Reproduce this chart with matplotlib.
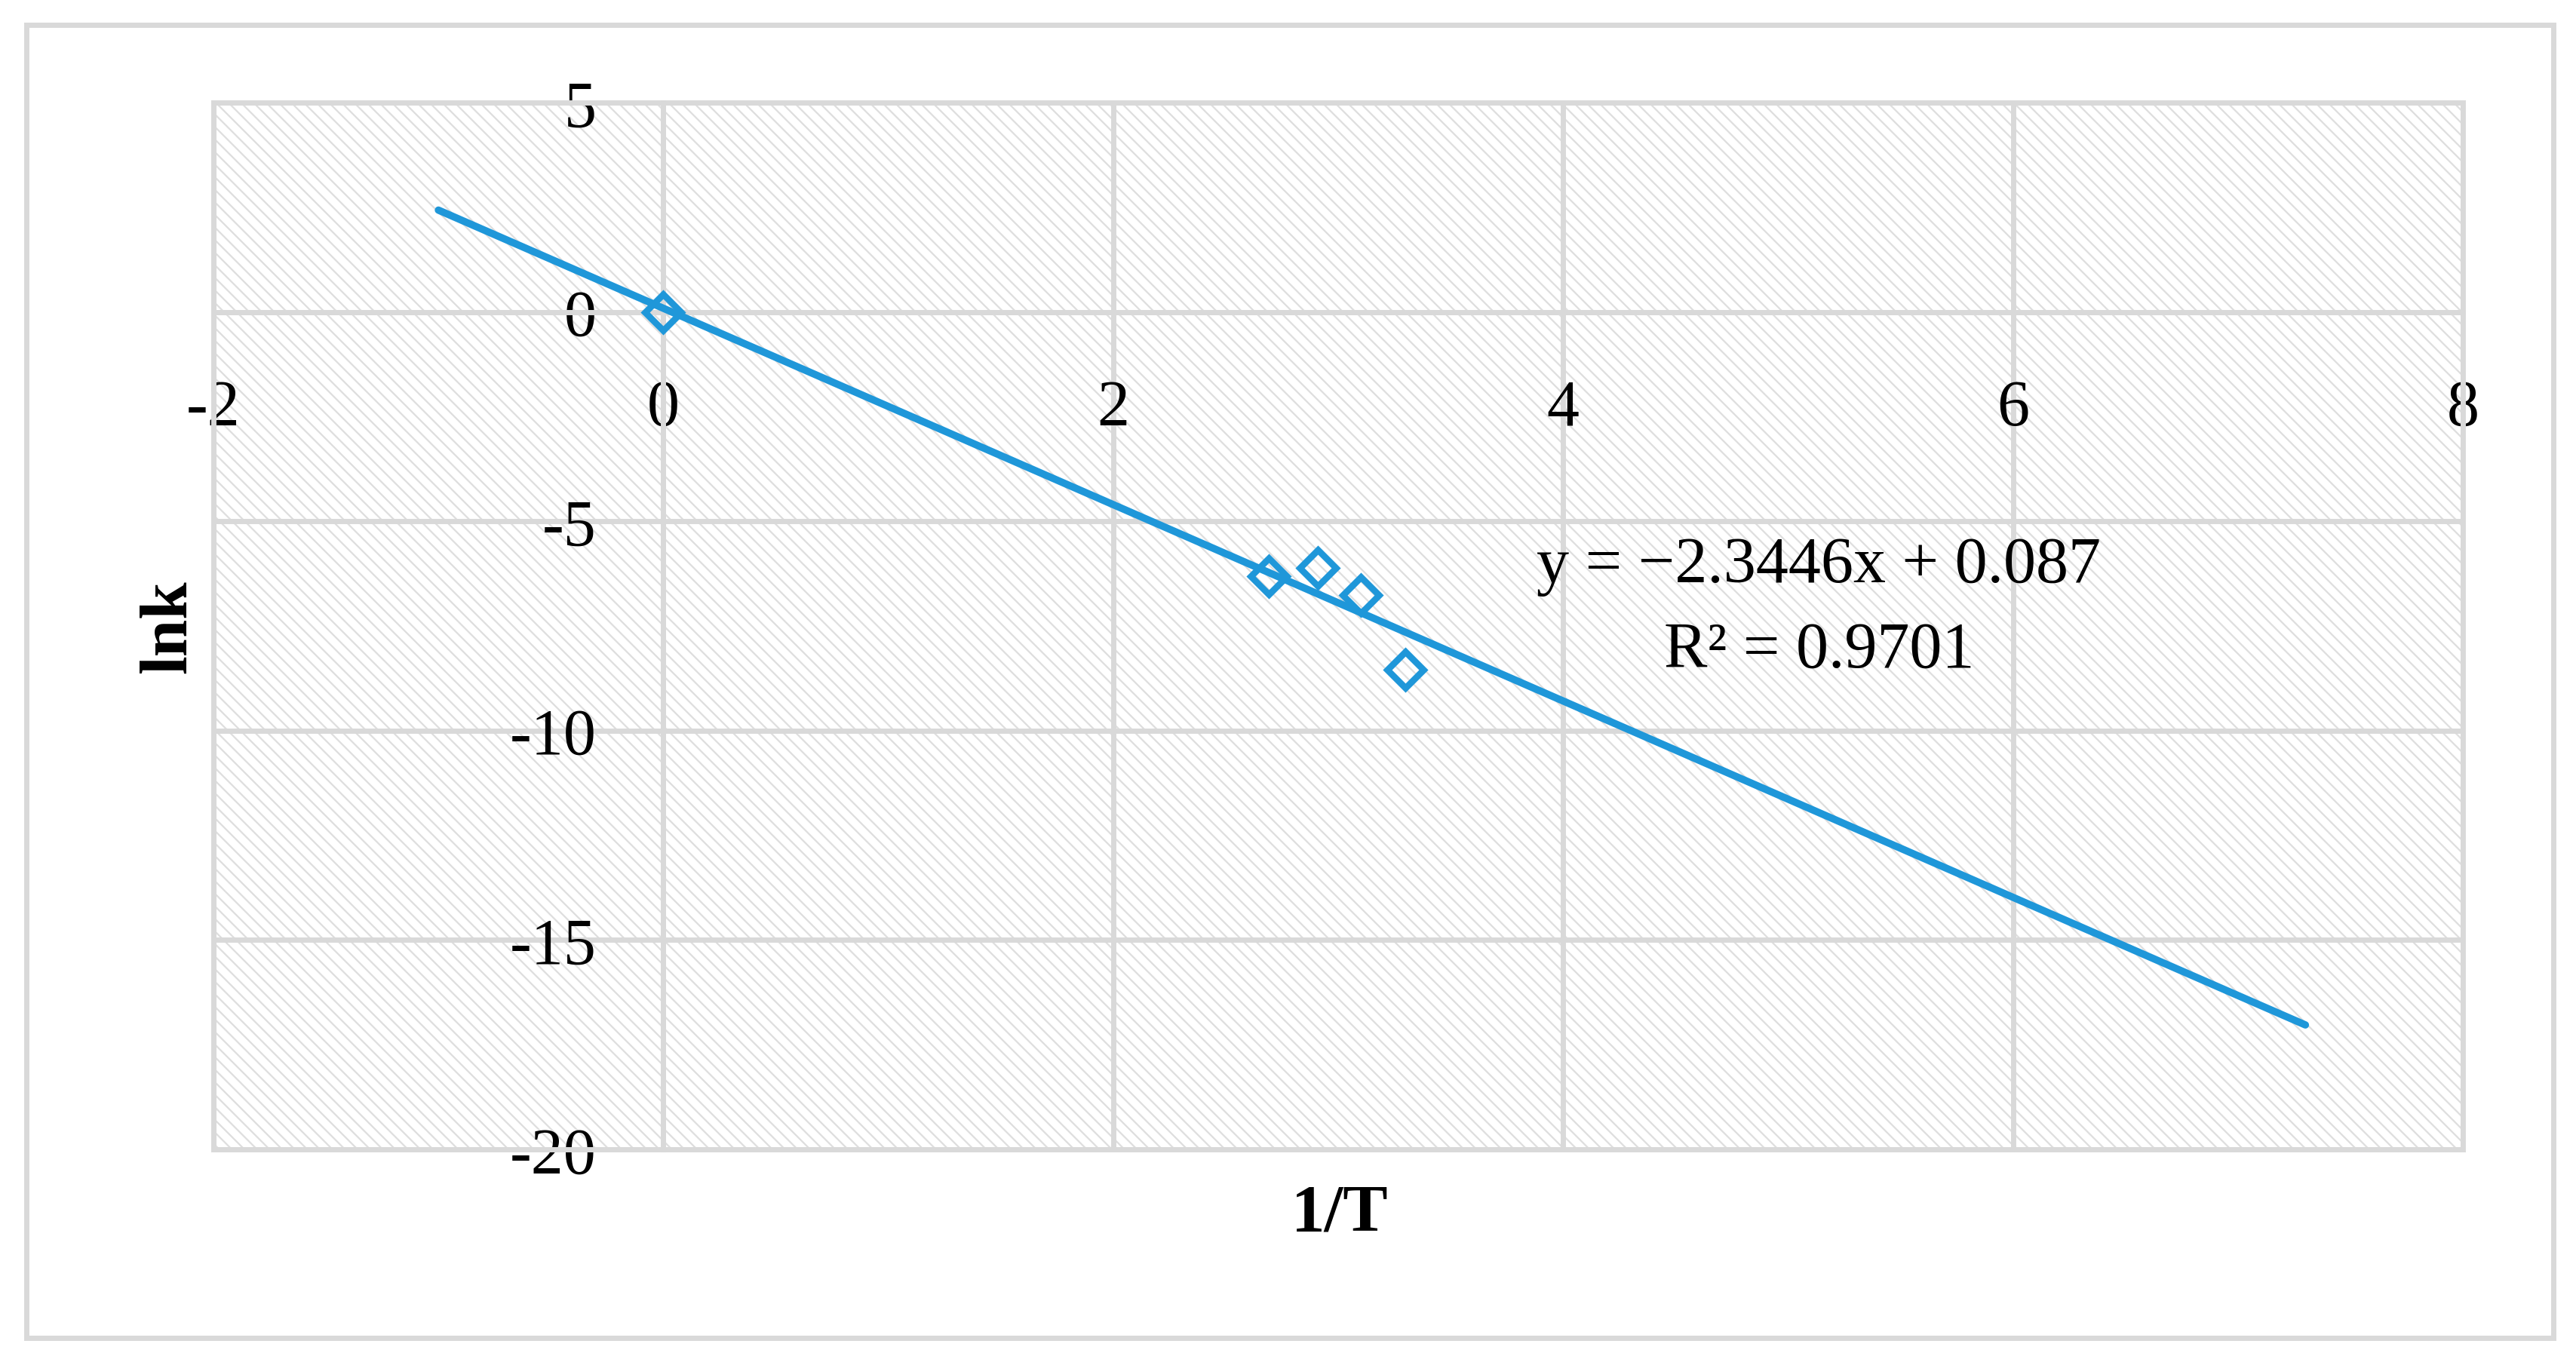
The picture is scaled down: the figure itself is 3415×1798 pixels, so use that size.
import matplotlib
matplotlib.use("Agg")
import matplotlib.pyplot as plt
from matplotlib.patches import Rectangle
import numpy as np

# ---- data ----
inv_T = [0.0, 2.69, 2.91, 3.10, 3.30]
ln_k = [0.0, -6.32, -6.11, -6.77, -8.54]

slope = -2.3446
intercept = 0.087
r_squared = 0.9701
trend_x_range = [-1.0, 7.3]

x_ticks = [-2, 0, 2, 4, 6, 8]
x_tick_labels = ["-2", "0", "2", "4", "6", "8"]
y_ticks = [-20, -15, -10, -5, 0, 5]
y_tick_labels = ["-20", "-15", "-10", "-5", "0", "5"]

x_title = "1/T"
y_title = "lnk"
eq_text = "y = \u22122.3446x + 0.087"
r2_text = "R\u00b2 = 0.9701"

# ---- style ----
W, H, DPI = 3415, 1799, 100
BLUE = "#1f97d9"
GRAY = "#d9d9d9"
FONT = ["Liberation Serif", "DejaVu Serif"]

plt.rcParams["font.family"] = FONT
plt.rcParams["axes.unicode_minus"] = False
plt.rcParams["hatch.linewidth"] = 1.6
plt.rcParams["hatch.color"] = "#dedede"

fig = plt.figure(figsize=(W / DPI, H / DPI), dpi=DPI)

# outer chart frame
fig.patches.append(Rectangle((35 / W, 1 - 1775 / H), (3385 - 35) / W, (1775 - 34) / H,
                             transform=fig.transFigure, fill=False,
                             edgecolor=GRAY, linewidth=5))

ax = fig.add_axes([283 / W, 1 - 1525 / H, (3265 - 283) / W, (1525 - 137) / H])
ax.set_xlim(-2, 8)
ax.set_ylim(-20, 5)
ax.patch.set_visible(False)

# hatched plot-area background
bg = Rectangle((0, 0), 1, 1, transform=ax.transAxes, facecolor="white",
               edgecolor="#dedede", linewidth=0, hatch="\\\\", zorder=0.1)
ax.add_patch(bg)
# plot-area border
ax.add_patch(Rectangle((0, 0), 1, 1, transform=ax.transAxes, fill=False,
                       edgecolor=GRAY, linewidth=5, zorder=0.6, clip_on=False))

ax.set_axisbelow(True)
ax.grid(True, color=GRAY, linewidth=5)

for s in ["top", "right"]:
    ax.spines[s].set_visible(False)
ax.spines["left"].set_position(("data", 0))
ax.spines["bottom"].set_position(("data", 0))
for s in ["left", "bottom"]:
    ax.spines[s].set_color(GRAY)
    ax.spines[s].set_linewidth(5)
    ax.spines[s].set_zorder(0.6)

ax.set_xticks(x_ticks)
ax.set_xticklabels(x_tick_labels)
ax.set_yticks(y_ticks)
ax.set_yticklabels(y_tick_labels)
ax.tick_params(axis="both", length=0, labelsize=62, labelcolor="black")
ax.tick_params(axis="x", pad=64)
ax.tick_params(axis="y", pad=64)

# trendline
tx = np.array(trend_x_range)
ax.plot(tx, slope * tx + intercept, color=BLUE, linewidth=7,
        solid_capstyle="round", zorder=3)

# data markers
ax.plot(inv_T, ln_k, linestyle="none", marker="D", markersize=24,
        markerfacecolor="none", markeredgecolor=BLUE, markeredgewidth=6.2,
        zorder=4)

# equation text
ax.text(5.137, -6.437, eq_text, ha="center", va="baseline", fontsize=62,
        color="black", zorder=5)
ax.text(5.137, -8.473, r2_text, ha="center", va="baseline", fontsize=62,
        color="black", zorder=5)

# axis titles
fig.text(1776 / W, 1 - 1632 / H, x_title, ha="center", va="baseline",
         fontsize=64, fontweight="bold")
fig.text(246 / W, 1 - 831 / H, y_title, rotation=90, rotation_mode="anchor",
         ha="center", va="baseline", fontsize=64, fontweight="bold")

fig.savefig("out.png", dpi=DPI, facecolor="white")
